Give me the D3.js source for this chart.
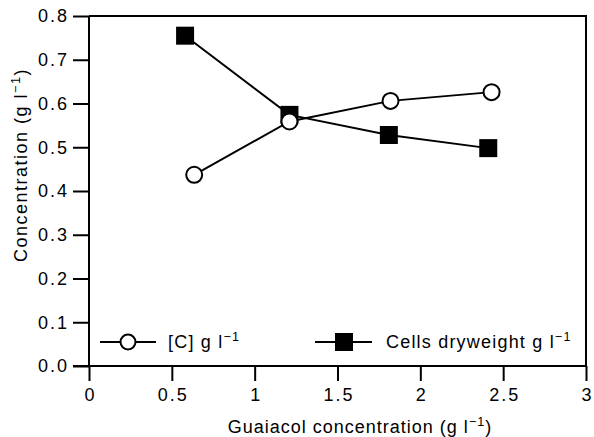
<!DOCTYPE html>
<html>
<head>
<meta charset="utf-8">
<script src="https://cdn.jsdelivr.net/npm/d3@7"></script>
<style>
  body { margin: 0; background: #fff; }
  svg text { font-family: "Liberation Sans", Arial, sans-serif; fill: #000; }
</style>
</head>
<body>
<svg id="chart" width="594" height="437"></svg>
<script>
const guaiacolC = [0.635, 1.21, 1.82, 2.43];
const cValues = [0.437, 0.559, 0.606, 0.626];
const guaiacolCells = [0.58, 1.21, 1.81, 2.41];
const cellValues = [0.755, 0.574, 0.528, 0.498];
const xTicks = [0, 0.5, 1, 1.5, 2, 2.5, 3];
const yTicks = [0, 0.1, 0.2, 0.3, 0.4, 0.5, 0.6, 0.7, 0.8];

const svg = d3.select("#chart");
const plotLeft = 89, plotRight = 586, plotTop = 16, plotBottom = 366;

const x = d3.scaleLinear().domain([0, 3]).range([plotLeft, plotRight]);
const y = d3.scaleLinear().domain([0, 0.8]).range([plotBottom, plotTop]);

// frame (top and right)
svg.append("path")
    .attr("d", `M${plotLeft},${plotTop}H${plotRight}V${plotBottom}`)
    .attr("fill", "none").attr("stroke", "#000").attr("stroke-width", 2);

const xAxis = svg.append("g")
    .attr("transform", `translate(0,${plotBottom})`)
    .call(d3.axisBottom(x).tickValues(xTicks).tickSize(15).tickPadding(7)
        .tickFormat(d3.format("")));
const yAxis = svg.append("g")
    .attr("transform", `translate(${plotLeft},0)`)
    .call(d3.axisLeft(y).tickValues(yTicks).tickSize(16).tickPadding(4)
        .tickFormat(d3.format(".1f")));

xAxis.select(".domain").attr("d", `M${plotLeft - 16},0H${plotRight}`);
yAxis.select(".domain").attr("d", `M0,${plotTop}V${plotBottom}`);
[xAxis, yAxis].forEach(g => {
    g.select(".domain").attr("stroke-width", 2);
    g.selectAll(".tick line").attr("stroke-width", 2);
    g.selectAll(".tick text").attr("font-size", 18).attr("letter-spacing", "2px")
        .attr("font-family", "Liberation Sans, Arial, sans-serif").attr("fill", "#000");
});
xAxis.selectAll(".tick text").attr("dx", 1);

const line = d3.line();

function drawSeries(xs, ys) {
    svg.append("path")
        .attr("d", line(xs.map((v, i) => [x(v), y(ys[i])])))
        .attr("fill", "none").attr("stroke", "#000").attr("stroke-width", 2);
}
drawSeries(guaiacolC, cValues);
drawSeries(guaiacolCells, cellValues);

svg.selectAll(".sq").data(guaiacolCells).enter().append("rect")
    .attr("x", d => x(d) - 9).attr("y", (d, i) => y(cellValues[i]) - 9)
    .attr("width", 18).attr("height", 18).attr("fill", "#000");

svg.selectAll(".ci").data(guaiacolC).enter().append("circle")
    .attr("cx", d => x(d)).attr("cy", (d, i) => y(cValues[i])).attr("r", 8)
    .attr("fill", "#fff").attr("stroke", "#000").attr("stroke-width", 2);

// legend
const legend = svg.append("g");
legend.append("line").attr("x1", 100).attr("x2", 156).attr("y1", 342).attr("y2", 342)
    .attr("stroke", "#000").attr("stroke-width", 2);
legend.append("circle").attr("cx", 128).attr("cy", 342).attr("r", 7.5)
    .attr("fill", "#fff").attr("stroke", "#000").attr("stroke-width", 2);
legend.append("line").attr("x1", 315).attr("x2", 372).attr("y1", 342).attr("y2", 342)
    .attr("stroke", "#000").attr("stroke-width", 2);
legend.append("rect").attr("x", 335).attr("y", 333).attr("width", 18).attr("height", 18)
    .attr("fill", "#000");

function unitText(sel, prefix, suffix) {
    sel.append("tspan").text(prefix);
    sel.append("tspan").attr("dy", -7).attr("font-size", "0.7em").text("\u2212" + "1");
    sel.append("tspan").attr("dy", 7).text(suffix);
}

unitText(legend.append("text").attr("x", 168).attr("y", 348).attr("font-size", 18)
    .attr("letter-spacing", "1.2px"), "[C] g l", "");
unitText(legend.append("text").attr("x", 386).attr("y", 348).attr("font-size", 18)
    .attr("letter-spacing", "1.2px"), "Cells dryweight g l", "");

unitText(svg.append("text").attr("x", 360).attr("y", 433).attr("text-anchor", "middle")
    .attr("font-size", 18).attr("letter-spacing", "1px"), "Guaiacol concentration (g l", ")");

unitText(svg.append("text").attr("transform", "translate(27,165) rotate(-90)")
    .attr("text-anchor", "middle").attr("font-size", 18).attr("letter-spacing", "1.5px"),
    "Concentration (g l", ")");
</script>
</body>
</html>
